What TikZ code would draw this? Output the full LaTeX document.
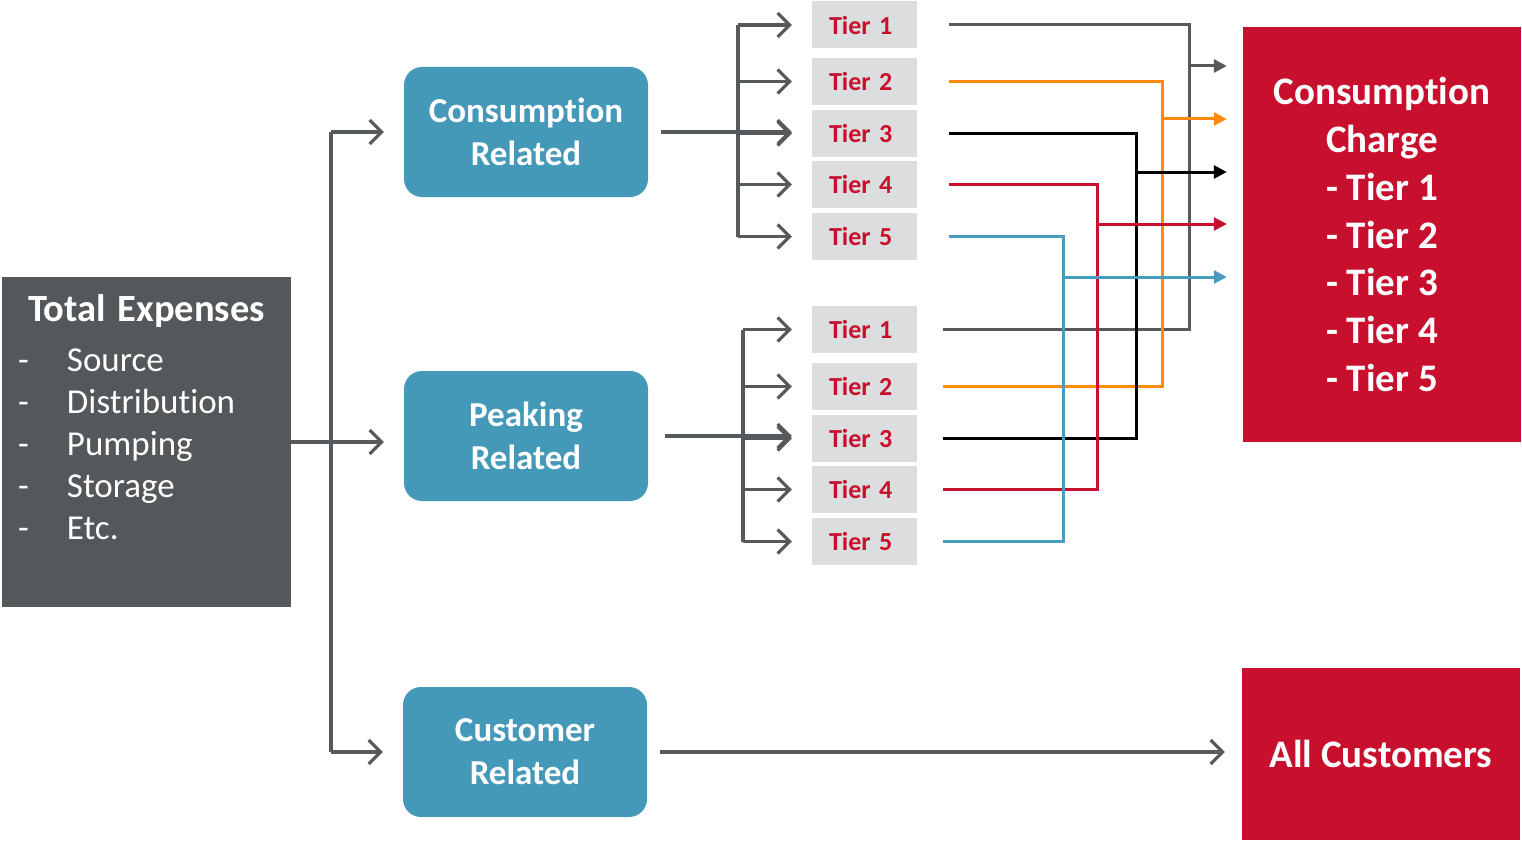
\documentclass[tikz,border=0pt]{standalone}
\usepackage{fontspec}
\setmainfont{Carlito}[Ligatures=NoCommon]
\usetikzlibrary{arrows.meta}

\definecolor{slate}{HTML}{54585A}
\definecolor{costblue}{HTML}{4498B8}
\definecolor{tierfill}{HTML}{DCDDDE}
\definecolor{crimson}{HTML}{C8102E}
\definecolor{linegray}{HTML}{575A5D}
\definecolor{lineorange}{HTML}{FF8A0D}
\definecolor{lineblue}{HTML}{4A9CBE}

\newcommand{\expitem}[1]{\makebox[49pt][l]{-}#1}

\begin{document}
\begin{tikzpicture}[x=1pt, y=-1pt,
    gline/.style={draw=linegray, line width=3.2pt},
    flow/.style={gline, -{Straight Barb[length=12pt,width=24pt]}, shorten >=20pt},
    costbox/.style={fill=costblue, rounded corners=18pt, minimum width=244pt,
      minimum height=130pt, text=white, align=center,
      font=\bfseries\fontsize{35}{43}\selectfont},
    tierbox/.style={fill=tierfill, minimum width=105pt, minimum height=47pt,
      inner xsep=17pt, text width=71pt, align=left,
      text=crimson, font=\bfseries\fontsize{26}{28}\selectfont},
    chargebox/.style={fill=crimson, minimum width=278pt, text=white, align=center,
      font=\bfseries\fontsize{39}{47.7}\selectfont}]
    \useasboundingbox (0,0) rectangle (1522,840); % page size

    \node[fill=slate, text=white, minimum width=289pt, minimum height=330pt,
      inner xsep=16pt, text width=257pt, align=left,
      font=\fontsize{35}{42}\selectfont] (total) at (146.5,442) {%
      \makebox[257pt]{\bfseries\fontsize{38.5}{42}\selectfont Total Expenses}\\[8pt]
      \expitem{Source}\\
      \expitem{Distribution}\\
      \expitem{Pumping}\\
      \expitem{Storage}\\
      \expitem{Etc.}\\[8pt]
      \mbox{}};

    \node[costbox] (cons) at (526,132) {Consumption\\Related};
    \node[costbox] (peak) at (526,436) {Peaking\\Related};
    \node[costbox] (cust) at (525,752) {Customer\\Related};

    \node[chargebox, minimum height=415pt] (charge) at (1382,234.5)
      {Consumption\\Charge\\- Tier 1\\- Tier 2\\- Tier 3\\- Tier 4\\- Tier 5};
    \node[chargebox, minimum height=172pt] (allcust) at (1381,754) {All Customers};

    \foreach \i/\y in {1/25,2/81.5,3/133.5,4/184.5,5/236.5}
      \node[tierbox] (ct\i) at (864.5,\y) {Tier \i};
    \foreach \i/\y in {1/329.5,2/386.5,3/438.5,4/489.5,5/541.5}
      \node[tierbox] (pt\i) at (864.5,\y) {Tier \i};

    % split of the total expenses
    \coordinate (trunk) at (331,442);
    \draw[gline] (trunk |- cons) -- (trunk |- cust);
    \draw[flow] (total.east) -- (total.east -| peak.west);
    \draw[flow] (trunk |- cons) -- (cons);
    \draw[flow] (trunk |- cust) -- (cust);

    % tiers of each part
    \coordinate (cbus) at (738,0);
    \coordinate (pbus) at (743,0);
    \draw[gline] (cbus |- ct1) -- (cbus |- ct5);
    \draw[gline] (pbus |- pt1) -- (pbus |- pt5);
    \draw[flow] ([xshift=13pt]cons.east) -- (cons.east -| ct3.west);
    \draw[flow] ([xshift=17pt]peak.east) -- (peak.east -| pt3.west);
    \foreach \i in {1,...,5} {
      \draw[flow] (cbus |- ct\i) -- (ct\i);
      \draw[flow] (pbus |- pt\i) -- (pt\i);
    }

    % lanes into the charge
    \foreach \i/\c/\x/\y in {1/linegray/1189/66, 2/lineorange/1162/119,
        3/black/1136/172, 4/crimson/1097/224, 5/lineblue/1063/277} {
      \coordinate (lane\i) at (\x,\y);
      \draw[draw=\c, line width=3pt]
        ([xshift=32pt]ct\i.east) -| (lane\i |- pt\i) -- ([xshift=26pt]pt\i.east);
      \draw[draw=\c, line width=3pt, -{Triangle[length=13pt,width=13pt]},
        shorten >=16pt] (lane\i) -- (lane\i -| charge.west);
    }

    \draw[flow, shorten >=17pt] ([xshift=13pt]cust.east) -- (cust.east -| allcust.west);
\end{tikzpicture}
\end{document}
